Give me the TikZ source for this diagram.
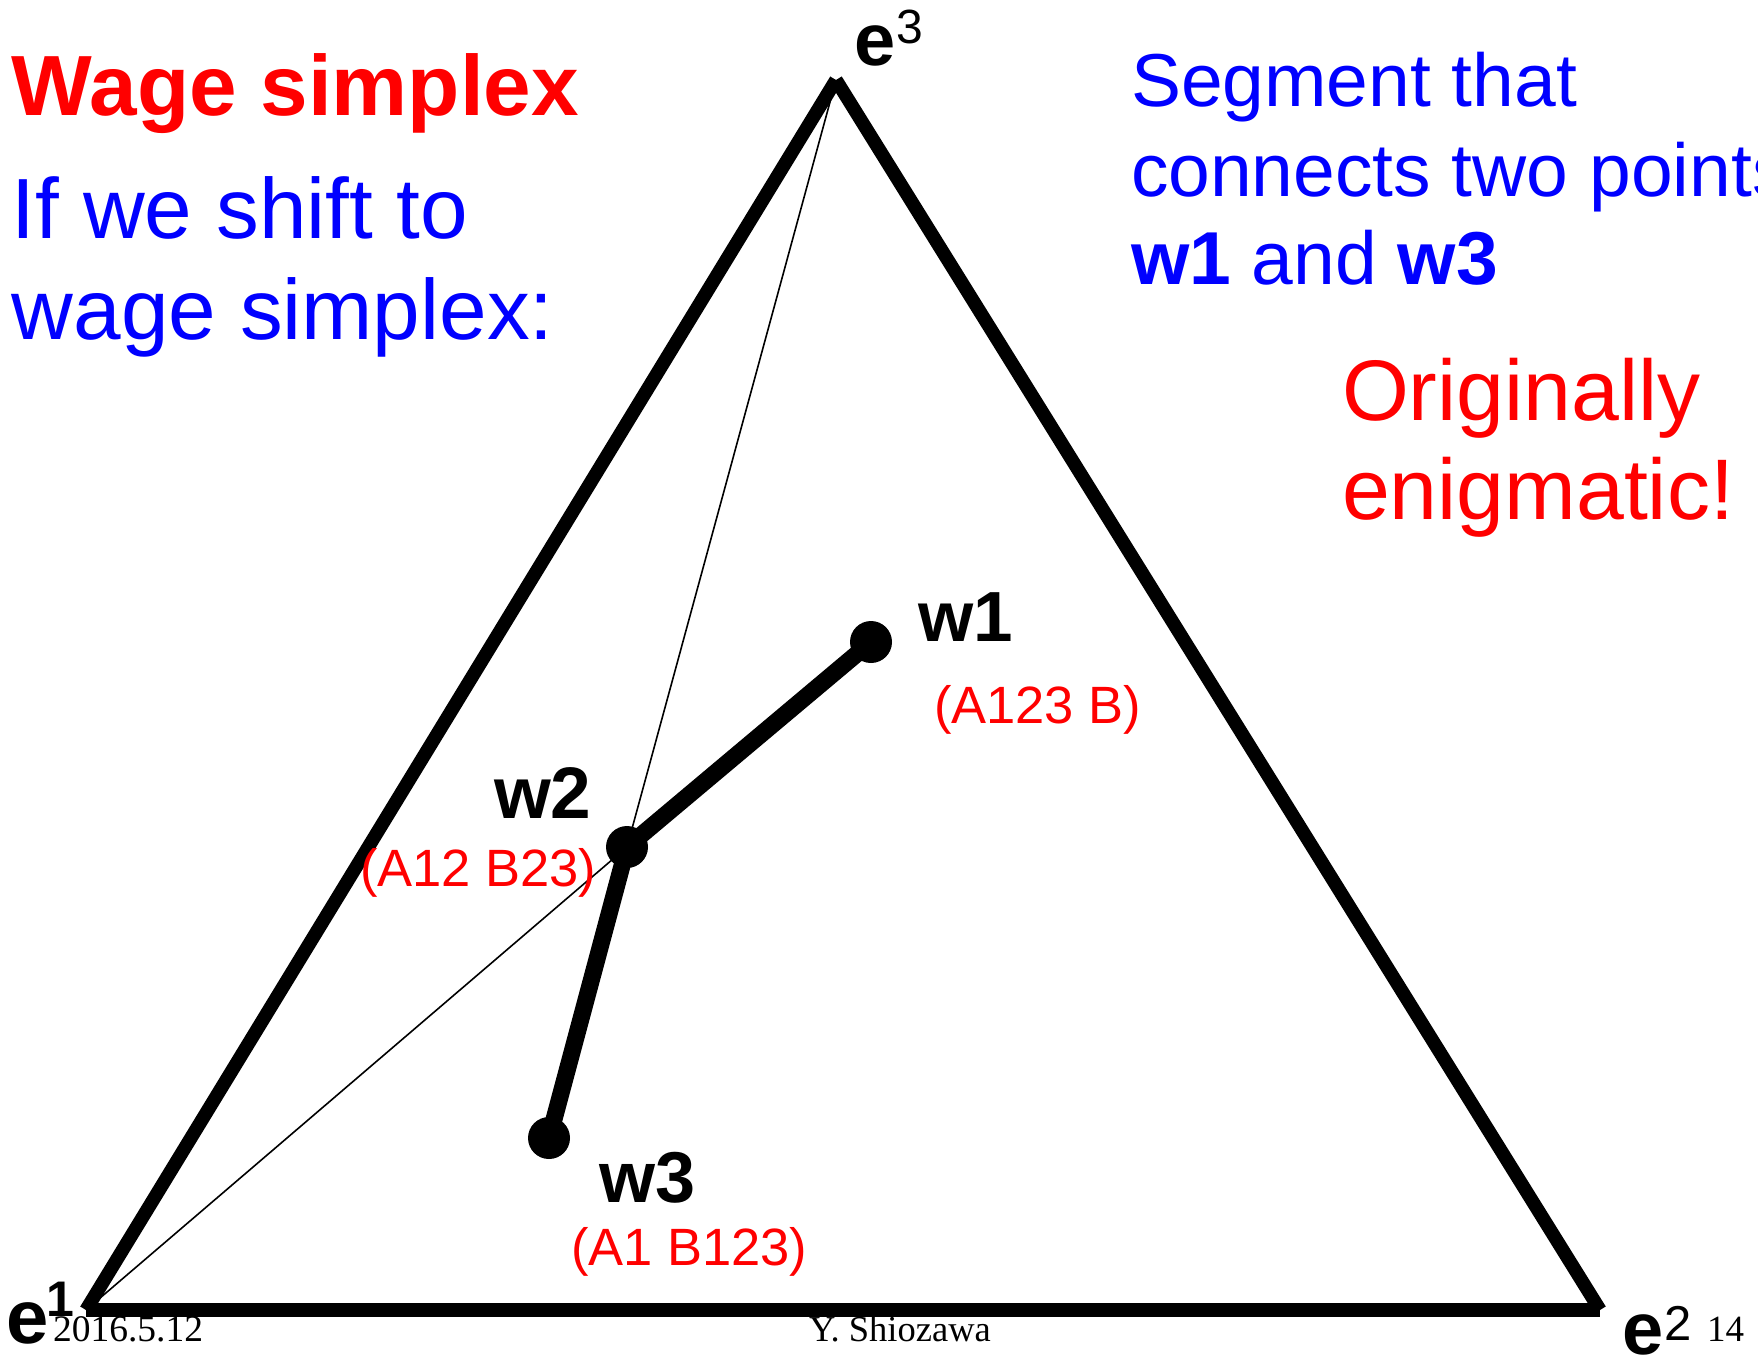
\documentclass[tikz,border=0pt]{standalone}
\usepackage{fontspec}
\setmainfont{Liberation Sans}
\newfontfamily\timesf{Liberation Serif}
\definecolor{pred}{RGB}{255,0,0}
\definecolor{pblue}{RGB}{0,0,255}
\begin{document}
\begin{tikzpicture}[x=1pt,y=-1pt,
  txt/.style={anchor=base west,inner sep=0pt,outer sep=0pt},
  side/.style={line width=13.5pt,line cap=butt},
  seg/.style={line width=17pt,line cap=butt},
  thin/.style={line width=1.6pt},
  dot/.style={circle,fill=black,minimum size=42pt,inner sep=0pt}]
\useasboundingbox (0,0) rectangle (1758,1361);
% vertices
\coordinate (e1) at (86,1310);
\coordinate (e2) at (1600,1310);
\coordinate (e3) at (836,80);
% points
\node[dot] (w1) at (871,642) {};
\node[dot] (w2) at (627,847) {};
\node[dot] (w3) at (549,1138) {};
% triangle
\draw[side] (e1) -- (e2);
\draw[side] (e2) -- (e3);
\draw[side] (e3) -- (e1);
% thin lines
\draw[thin] (e3) -- (w2.center);
\draw[thin] (e1) -- (w2.center);
% thick segments
\draw[seg] (w1.center) -- (w2.center);
\draw[seg] (w2.center) -- (w3.center);
% titles
\node[txt,text=pred,font=\fontsize{85.5}{96}\selectfont\bfseries] (t1) at (12,115) {Wage simplex};
\node[txt,text=pblue,font=\fontsize{85.5}{96}\selectfont] (t2) at (12,238) {If we shift to};
\node[txt,text=pblue,font=\fontsize{85.5}{96}\selectfont] (t3) at (12,339) {wage simplex:};
\node[txt,text=pblue,font=\fontsize{75}{88}\selectfont] (s1) at (1131,106) {Segment that};
\node[txt,text=pblue,font=\fontsize{75}{88}\selectfont] (s2) at (1131,196) {connects two points};
\node[txt,text=pblue,font=\fontsize{75}{88}\selectfont] (s3) at (1131,284) {\textbf{w1} and \textbf{w3}};
\node[txt,text=pred,font=\fontsize{86}{98}\selectfont] (o1) at (1342,420) {Originally};
\node[txt,text=pred,font=\fontsize{86}{98}\selectfont] (o2) at (1342,519) {enigmatic!};
% point labels
\node[txt,font=\fontsize{71}{80}\selectfont\bfseries] (l1) at (918,641) {w1};
\node[txt,text=pred,font=\fontsize{52.5}{60}\selectfont] (r1) at (934,723) {(A123 B)};
\node[txt,font=\fontsize{73}{80}\selectfont\bfseries] (l2) at (494,818) {w2};
\node[txt,text=pred,font=\fontsize{52.5}{60}\selectfont] (r2) at (360,886) {(A12 B23)};
\node[txt,font=\fontsize{72}{80}\selectfont\bfseries] (l3) at (599,1202) {w3};
\node[txt,text=pred,font=\fontsize{52.5}{60}\selectfont] (r3) at (571,1265) {(A1 B123)};
% vertex labels
\node[txt,font=\fontsize{74}{80}\selectfont\bfseries] (v3) at (854,65) {e};
\node[txt,font=\fontsize{48}{56}\selectfont] (v3s) at (896,43) {3};
\node[txt,font=\fontsize{76}{80}\selectfont\bfseries] (v1) at (6,1343) {e};
\node[txt,font=\fontsize{50}{56}\selectfont\bfseries] (v1s) at (46,1316) {1};
\node[txt,font=\fontsize{74}{80}\selectfont\bfseries] (v2) at (1622,1354) {e};
\node[txt,font=\fontsize{49}{56}\selectfont] (v2s) at (1664,1340) {2};
% footer
\node[txt,font=\fontsize{37.5}{40}\selectfont\timesf] (f1) at (53,1341) {2016.5.12};
\node[txt,font=\fontsize{36.5}{40}\selectfont\timesf] (f2) at (809,1341) {Y. Shiozawa};
\node[txt,font=\fontsize{37}{40}\selectfont\timesf] (f3) at (1707,1341) {14};
\end{tikzpicture}
\end{document}
